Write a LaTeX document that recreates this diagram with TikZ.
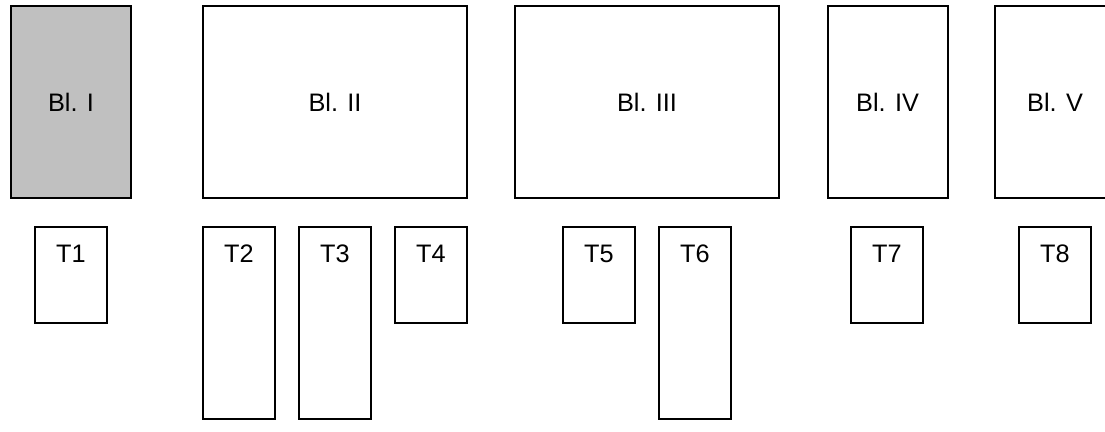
\documentclass[tikz,border=0pt]{standalone}
\usepackage{fontspec}
\setmainfont{Liberation Sans}
\definecolor{blockgray}{HTML}{C0C0C0}

\begin{document}
\begin{tikzpicture}[
		block/.style={draw,line width=1.4pt,minimum width=3cm,minimum height=4.8cm,inner sep=0pt,font=\fontsize{18}{21}\selectfont},
		wideblock/.style={block,minimum width=6.6cm},
		shadedblock/.style={block,fill=blockgray},
		tbox/.style={draw,line width=1.4pt,minimum width=1.8cm,minimum height=2.4cm,inner sep=0pt},
		tallbox/.style={tbox,minimum height=4.8cm},
		tlabel/.style={anchor=center,yshift=-0.7cm,font=\fontsize{18}{21}\selectfont}
	]
		\clip (0,0) rectangle (27.625,-10.8);

		% blocks
		\node[shadedblock] at (1.775,-2.55)(b1){Bl. I};
		\node[wideblock] at (8.375,-2.55)(b2){Bl. II};
		\node[wideblock] at (16.175,-2.55)(b3){Bl. III};
		\node[block] at (22.19,-2.55)(b4){Bl. IV};
		\node[block] at (26.375,-2.55)(b5){Bl. V};

		% T boxes
		\node[tbox,label={[tlabel]north:T1}] at (1.775,-6.875)(t1){};
		\node[tallbox,label={[tlabel]north:T2}] at (5.975,-8.075)(t2){};
		\node[tallbox,label={[tlabel]north:T3}] at (8.375,-8.075)(t3){};
		\node[tbox,label={[tlabel]north:T4}] at (10.775,-6.875)(t4){};
		\node[tbox,label={[tlabel]north:T5}] at (14.975,-6.875)(t5){};
		\node[tallbox,label={[tlabel]north:T6}] at (17.375,-8.075)(t6){};
		\node[tbox,label={[tlabel]north:T7}] at (22.175,-6.875)(t7){};
		\node[tbox,label={[tlabel]north:T8}] at (26.375,-6.875)(t8){};
	\end{tikzpicture}
\end{document}
